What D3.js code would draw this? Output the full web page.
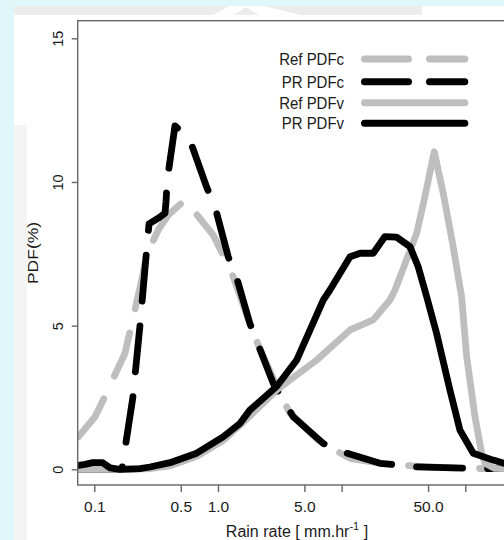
<!DOCTYPE html>
<html>
<head>
<meta charset="utf-8">
<script src="https://cdn.jsdelivr.net/npm/d3@7"></script>
<style>
  body { margin: 0; background: #dff7f9; }
  text { font-family: "Liberation Sans", Arial, Helvetica, sans-serif; fill: #1a1a1a; }
</style>
</head>
<body>
<div id="chart"></div>
<script>
// values: [rain rate, PDF %]
var refPDFc = [[0.0743,1.13],[0.1014,1.83],[0.118,2.41],[0.177,4.04],[0.194,4.79],[0.242,6.59],
  [0.265,7.46],[0.329,8.33],[0.396,8.85],[0.541,9.37],[0.916,8.15],[1.10,7.46],[1.33,6.70],
  [1.93,4.73],[3.07,2.76],[3.82,1.95],[6.68,0.96],[11.7,0.38],[20.4,0.21],[45.7,0.09],
  [116,0.03],[230,0.02]];
var prPDFc = [[0.0743,0],[0.167,0],[0.205,2.5],[0.234,5.0],[0.262,7.4],[0.277,8.54],[0.329,8.74],
  [0.373,8.91],[0.380,9.31],[0.389,10.07],[0.449,11.95],[0.586,11.52],[0.810,9.82],[0.946,9.14],
  [1.21,7.40],[1.42,6.65],[1.81,5.08],[2.80,2.99],[4.06,1.83],[7.10,0.90],[11.0,0.56],
  [20.4,0.21],[37.9,0.09],[116,0.03],[230,0.02]];
var refPDFv = [[0.0743,0],[0.20,0],[0.282,0.02],[0.409,0.12],[0.673,0.45],[1.10,1.0],[1.81,1.85],
  [2.98,2.76],[6.28,3.80],[11.7,4.85],[18.0,5.20],[24.6,5.89],[27.0,6.24],[33.5,7.29],[40.4,8.21],
  [47.1,9.49],[56.1,11.05],[66.3,9.61],[79.8,7.75],[93.3,6.01],[102.6,3.92],[119.7,1.83],
  [135.5,0.56],[144,0.21],[173,0.03],[230,0.02]];
var prPDFv = [[0.0743,0.14],[0.084,0.17],[0.097,0.23],[0.117,0.23],[0.134,0.05],[0.161,0],
  [0.234,0.02],[0.282,0.08],[0.409,0.23],[0.673,0.56],[1.10,1.13],[1.51,1.60],[1.81,2.06],
  [2.98,2.88],[4.33,3.80],[7.10,5.89],[8.04,6.24],[11.7,7.40],[14.1,7.52],[18.0,7.52],[22.4,8.10],
  [27.8,8.08],[35.7,7.75],[41.6,7.05],[48.7,6.01],[58.6,4.73],[75.1,2.76],[90.4,1.37],
  [116,0.56],[168,0.32],[205,0.21],[230,0.15]];

var xTicks = [0.1,0.5,1,5,10,50,100];
var xTickLabels = ["0.1","0.5","1.0","5.0","","50.0",""];
var yTicks = [0,5,10,15];
var legendLabels = ["Ref PDFc","PR PDFc","Ref PDFv","PR PDFv"];

var W = 504, H = 540;
var box = {left:77.7, right:520, top:20.7, bottom:485};

var svg = d3.select("#chart").append("svg")
    .attr("width", W).attr("height", H);

// page background with faint watermark
svg.append("rect").attr("x",14).attr("y",6).attr("width",W-14).attr("height",H-6).style("fill","#ffffff");
svg.append("rect").attr("x",14).attr("y",6).attr("width",408).attr("height",9).style("fill","#ececec");
svg.append("polygon").attr("points","213,15 229,6 264,6 301,15").style("fill","#ffffff");
svg.append("polygon").attr("points","234,15 246,7 259,15").style("fill","#ececec");
svg.append("rect").attr("x",14).attr("y",125).attr("width",13).attr("height",H-125).style("fill","#f4f4f4");

var x = d3.scaleLog()
    .domain([0.1,100])
    .range([94.3,465.3]);

var y = d3.scaleLinear()
    .domain([0,15])
    .range([469.3,38.3]);

svg.append("clipPath").attr("id","plotclip")
  .append("rect")
    .attr("x",box.left).attr("y",box.top)
    .attr("width",box.right-box.left).attr("height",box.bottom-box.top);

const line = d3.line()
    .x(function(d){return x(d[0]);})
    .y(function(d){return y(d[1]);});

var series = [
  {data:refPDFc, color:"#bebebe", dash:"46,25"},
  {data:prPDFc,  color:"#000000", dash:"46,25"},
  {data:refPDFv, color:"#bebebe", dash:null},
  {data:prPDFv,  color:"#000000", dash:null}
];

var g = svg.append("g").attr("clip-path","url(#plotclip)");
series.forEach(function(s){
  g.append("path")
    .datum(s.data)
    .attr("d",line)
    .style("fill","none")
    .style("stroke",s.color)
    .style("stroke-width","6.8px")
    .style("stroke-linecap","round")
    .style("stroke-linejoin","round")
    .style("stroke-dasharray",s.dash);
});

// box
svg.append("rect")
    .attr("x",box.left).attr("y",box.top)
    .attr("width",box.right-box.left).attr("height",box.bottom-box.top)
    .style("fill","none").style("stroke","#666").style("stroke-width","1.4px");

// x axis
var gx = svg.append("g")
    .attr("transform","translate(0,"+box.bottom+")")
    .call(d3.axisBottom(x).tickValues(xTicks)
      .tickFormat(function(d,i){return xTickLabels[i];})
      .tickSize(7).tickSizeOuter(0));
gx.select(".domain").remove();
gx.selectAll(".tick line").style("stroke","#666").style("stroke-width","1.4px");
gx.selectAll(".tick text")
    .attr("y",21).attr("dy",null)
    .attr("dominant-baseline","central")
    .style("font-size","15.5px");

// y axis
var gy = svg.append("g")
    .attr("transform","translate("+box.left+",0)")
    .call(d3.axisLeft(y).tickValues(yTicks).tickSize(6).tickSizeOuter(0));
gy.select(".domain").remove();
gy.selectAll(".tick line").style("stroke","#666").style("stroke-width","1.4px");
gy.selectAll(".tick text")
    .attr("x",0).attr("y",-20).attr("dy",null)
    .attr("transform","rotate(-90)")
    .attr("text-anchor","middle")
    .attr("dominant-baseline","central")
    .style("font-size","14.5px");

// axis titles
svg.append("text")
    .attr("transform","translate(33,253) rotate(-90) scale(1,0.85)")
    .attr("text-anchor","middle")
    .attr("dominant-baseline","central")
    .style("font-size","17.5px")
    .text("PDF(%)");

var xt = svg.append("text")
    .attr("x",297).attr("y",537)
    .attr("text-anchor","middle")
    .style("font-size","16px");
xt.append("tspan").text("Rain rate [ mm.hr");
xt.append("tspan").attr("dy",-7).style("font-size","11px").text("-1");
xt.append("tspan").attr("dy",7).text(" ]");

// legend
var legY = [59, 81.7, 102.7, 123.3];
legendLabels.forEach(function(lab,i){
  svg.append("text")
    .attr("transform","translate(344,"+legY[i]+") scale(0.88,1)")
    .attr("text-anchor","end")
    .attr("dominant-baseline","central")
    .style("font-size","17px")
    .text(lab);
  svg.append("line")
    .attr("x1",364.5).attr("x2",464.8)
    .attr("y1",legY[i]).attr("y2",legY[i])
    .style("stroke",series[i].color)
    .style("stroke-width","7px")
    .style("stroke-linecap","round")
    .style("stroke-dasharray",series[i].dash ? "44,21" : null);
});
</script>
</body>
</html>
